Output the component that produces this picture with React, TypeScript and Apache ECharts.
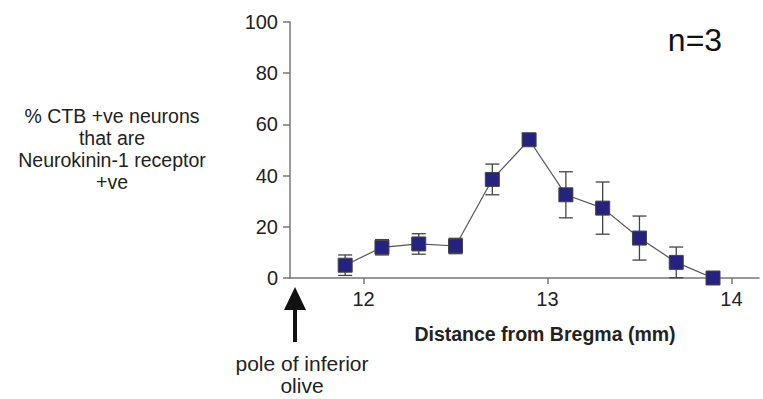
import React, { useEffect, useRef } from "react";
import * as echarts from "echarts";

const distances = [11.9, 12.1, 12.3, 12.5, 12.7, 12.9, 13.1, 13.3, 13.5, 13.7, 13.9];
const percentValues = [5, 12, 13.3, 12.5, 38.5, 54, 32.5, 27.3, 15.6, 6.1, 0];
const errorValues = [4, 3, 4, 3, 6, 1, 9, 10.2, 8.6, 6, 0];
const xTicks = [12, 13, 14];
const yTicks = [0, 20, 40, 60, 80, 100];

export default function App() {
  const ref = useRef<HTMLDivElement>(null);
  useEffect(() => {
    if (!ref.current) return;
    const chart = echarts.init(ref.current, null, { renderer: "svg" });
    const pts = distances.map((d, i) => [d, percentValues[i]]);
    const errData = distances.map((d, i) => [d, percentValues[i] - errorValues[i], percentValues[i] + errorValues[i]]);
    const font = "Liberation Sans, Arial, sans-serif";
    chart.setOption({
      animation: false,
      grid: { left: 290, top: 22, right: 4, bottom: 121, containLabel: false },
      xAxis: {
        type: "value",
        min: 11.6,
        max: 14.15,
        splitLine: { show: false },
        axisLine: { lineStyle: { color: "#777", width: 1.5 } },
        axisTick: { show: true, length: 6, lineStyle: { color: "#777", width: 1.5 }, customValues: xTicks },
        axisLabel: { color: "#222", fontSize: 20, fontFamily: font, margin: 11, customValues: xTicks, formatter: (v: number) => String(v) },
      },
      yAxis: {
        type: "value",
        min: 0,
        max: 100,
        interval: 20,
        splitLine: { show: false },
        axisLine: { show: true, lineStyle: { color: "#777", width: 1.5 } },
        axisTick: { show: true, length: 7, lineStyle: { color: "#777", width: 1.5 } },
        axisLabel: { color: "#222", fontSize: 20, fontFamily: font, margin: 12, formatter: (v: number) => (yTicks.includes(v) ? String(v) : "") },
      },
      series: [
        {
          type: "custom",
          data: errData,
          z: 1,
          renderItem: (params: any, api: any) => {
            const x = api.value(0);
            const lo = api.coord([x, api.value(1)]);
            const hi = api.coord([x, api.value(2)]);
            const hw = 7;
            const style = { stroke: "#444", lineWidth: 1.3 };
            return {
              type: "group",
              children: [
                { type: "line", shape: { x1: lo[0], y1: lo[1], x2: hi[0], y2: hi[1] }, style },
                { type: "line", shape: { x1: lo[0] - hw, y1: lo[1], x2: lo[0] + hw, y2: lo[1] }, style },
                { type: "line", shape: { x1: hi[0] - hw, y1: hi[1], x2: hi[0] + hw, y2: hi[1] }, style },
              ],
            };
          },
        },
        {
          type: "line",
          data: pts,
          z: 2,
          symbol: "rect",
          symbolSize: 14,
          lineStyle: { color: "#555", width: 1.2 },
          itemStyle: { color: "#25237f", borderColor: "#444", borderWidth: 1 },
        },
      ],
      graphic: [
        { type: "text", x: 695, y: 40, style: { text: "n=3", fontSize: 32, fontFamily: font, fill: "#111", align: "center", verticalAlign: "middle" } },
        { type: "text", x: 545, y: 334, style: { text: "Distance from Bregma (mm)", fontSize: 19.5, fontWeight: "bold", fontFamily: font, fill: "#222", align: "center", verticalAlign: "middle" } },
        { type: "text", x: 112, y: 149, style: { text: "% CTB +ve neurons\nthat are\nNeurokinin-1 receptor\n+ve", fontSize: 19.5, lineHeight: 22, fontFamily: font, fill: "#222", align: "center", verticalAlign: "middle" } },
        { type: "polygon", shape: { points: [[295, 287], [284, 310], [306, 310]] }, style: { fill: "#111" } },
        { type: "rect", shape: { x: 293, y: 308, width: 4, height: 34 }, style: { fill: "#111" } },
        { type: "text", x: 302, y: 374, style: { text: "pole of inferior\nolive", fontSize: 21, lineHeight: 22, fontFamily: font, fill: "#222", align: "center", verticalAlign: "middle" } },
      ],
    });
    return () => chart.dispose();
  }, []);
  return <div ref={ref} style={{ position: "absolute", left: 0, top: 0, width: 763, height: 399 }} />;
}
